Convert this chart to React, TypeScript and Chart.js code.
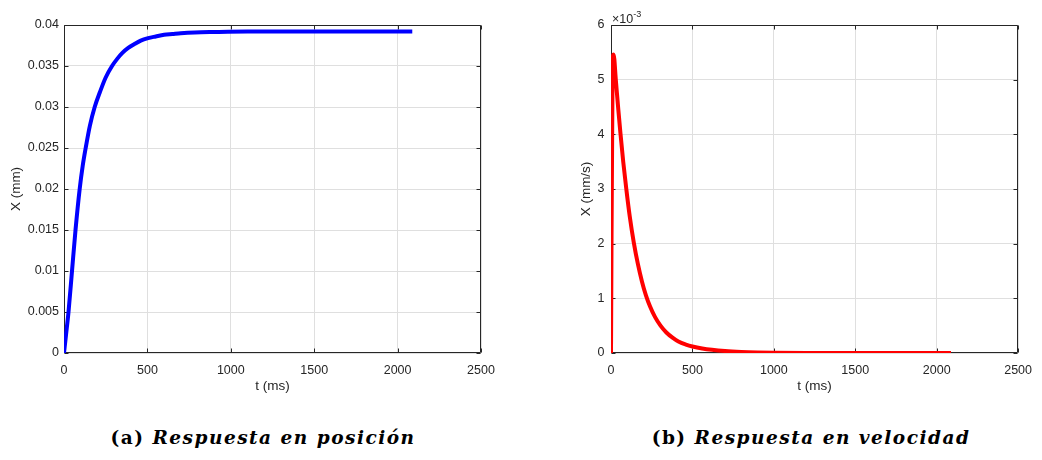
import React, { useEffect, useRef } from "react";
import { Chart, registerables } from "chart.js";

Chart.register(...registerables);

// ---- data ----
const positionTimeMs = [0, 12, 27, 48, 69, 94, 112, 130, 155, 184, 215, 250, 288, 320, 350, 385, 420, 460, 504, 550, 600, 650, 700, 784, 900, 1100, 1400, 1700, 2088];
const positionMm = [0, 0.0022, 0.005, 0.01, 0.015, 0.02, 0.0228, 0.025, 0.0277, 0.03, 0.0318, 0.0336, 0.035, 0.0359, 0.0366, 0.0372, 0.03765, 0.0381, 0.0384, 0.0386, 0.0388, 0.0389, 0.039, 0.0391, 0.03915, 0.0392, 0.0392, 0.0392, 0.0392];

const velocityTimeMs = [0, 10, 16, 30, 45, 58, 75, 94, 115, 140, 165, 190, 214, 240, 270, 304, 340, 380, 414, 460, 500, 560, 620, 700, 800, 900, 1000, 1200, 1500, 2088];
const velocityE3 = [0, 5.35, 5.46, 4.98, 4.45, 4.02, 3.5, 3.0, 2.5, 2.02, 1.63, 1.31, 1.06, 0.85, 0.66, 0.5, 0.375, 0.275, 0.21, 0.155, 0.12, 0.083, 0.058, 0.036, 0.02, 0.011, 0.006, 0.002, 0.0005, 0];

const timeTicks = [0, 500, 1000, 1500, 2000, 2500];
const positionTicks = [0, 0.005, 0.01, 0.015, 0.02, 0.025, 0.03, 0.035, 0.04];
const velocityTicks = [0, 1, 2, 3, 4, 5, 6];

const xTitle = "t (ms)";
const positionTitle = "X (mm)";
const velocityTitle = "X (mm/s)";
const captionA = ["(a)", "Respuesta en posición"];
const captionB = ["(b)", "Respuesta en velocidad"];

const AXIS = "#262626";
const GRID = "#dfdfdf";
const SANS = "'Liberation Sans', Arial, Helvetica, sans-serif";
const TICK_SIZE = 12.5;
const TITLE_SIZE = 13.5;

const matlabBox = {
  id: "matlabBox",
  beforeDatasetsDraw(chart: any) {
    const { ctx, chartArea: a, scales } = chart;
    const L = Math.round(a.left) + 0.5;
    const T = Math.round(a.top) + 0.5;
    const R = Math.round(a.right) - 0.5;
    const B = Math.round(a.bottom) - 0.5;
    ctx.save();
    ctx.strokeStyle = AXIS;
    ctx.lineWidth = 1;
    ctx.beginPath();
    ctx.rect(L, T, R - L, B - T);
    const tl = 4;
    scales.x.ticks.forEach((t: any) => {
      const px = Math.round(scales.x.getPixelForValue(t.value)) + 0.5;
      ctx.moveTo(px, B);
      ctx.lineTo(px, B - tl);
      ctx.moveTo(px, T);
      ctx.lineTo(px, T + tl);
    });
    scales.y.ticks.forEach((t: any) => {
      const py = Math.round(scales.y.getPixelForValue(t.value)) + 0.5;
      ctx.moveTo(L, py);
      ctx.lineTo(L + tl, py);
      ctx.moveTo(R, py);
      ctx.lineTo(R - tl, py);
    });
    ctx.stroke();
    ctx.restore();
  },
  afterDraw(chart: any) {
    const exp = chart.options.plugins.matlabBox?.exponent;
    if (!exp) return;
    const { ctx, chartArea: a } = chart;
    ctx.save();
    ctx.fillStyle = AXIS;
    ctx.textBaseline = "alphabetic";
    ctx.textAlign = "left";
    ctx.font = `${TICK_SIZE}px ${SANS}`;
    const base = "×10";
    ctx.fillText(base, a.left + 1, a.top - 2);
    const w = ctx.measureText(base).width;
    ctx.font = `9px ${SANS}`;
    ctx.fillText(exp, a.left + 1 + w, a.top - 8);
    ctx.restore();
  },
};

type PanelProps = {
  left: number;
  width: number;
  height: number;
  xs: number[];
  ys: number[];
  color: string;
  yTicks: number[];
  yMax: number;
  yTitle: string;
  yAxisWidth: number;
  yTitlePad: number;
  yTickPad: number;
  padRight: number;
  fmt: (v: number) => string;
  exponent?: string;
};

function Panel(p: PanelProps) {
  const ref = useRef<HTMLCanvasElement>(null);
  useEffect(() => {
    const canvas = ref.current!;
    const chart = new Chart(canvas, {
      type: "line",
      data: {
        datasets: [
          {
            data: p.xs.map((x, i) => ({ x, y: p.ys[i] })),
            borderColor: p.color,
            backgroundColor: p.color,
            borderWidth: 4,
            pointRadius: 0,
            cubicInterpolationMode: "monotone",
            fill: false,
          },
        ],
      },
      options: {
        animation: false,
        responsive: false,
        devicePixelRatio: 1,
        layout: { padding: { top: 25, right: p.padRight, left: 0, bottom: 0 } },
        plugins: {
          legend: { display: false },
          tooltip: { enabled: false },
          // @ts-ignore
          matlabBox: { exponent: p.exponent },
        },
        scales: {
          x: {
            type: "linear",
            min: 0,
            max: 2500,
            afterBuildTicks: (s: any) => {
              s.ticks = timeTicks.map((v) => ({ value: v }));
            },
            afterFit: (s: any) => {
              s.height = p.height - 353;
            },
            grid: { color: GRID, drawTicks: false, lineWidth: 1 },
            border: { display: false },
            ticks: {
              color: AXIS,
              font: { family: SANS, size: TICK_SIZE },
              padding: 10,
              maxRotation: 0,
              callback: (v: any) => String(v),
            },
            title: {
              display: true,
              text: xTitle,
              color: AXIS,
              font: { family: SANS, size: TITLE_SIZE },
              padding: { top: 0, bottom: 16 },
            },
          },
          y: {
            type: "linear",
            min: 0,
            max: p.yMax,
            afterBuildTicks: (s: any) => {
              s.ticks = p.yTicks.map((v) => ({ value: v }));
            },
            afterFit: (s: any) => {
              s.width = p.yAxisWidth;
            },
            grid: { color: GRID, drawTicks: false, lineWidth: 1 },
            border: { display: false },
            ticks: {
              color: AXIS,
              font: { family: SANS, size: TICK_SIZE },
              padding: p.yTickPad,
              callback: (v: any) => p.fmt(Number(v)),
            },
            title: {
              display: true,
              text: p.yTitle,
              color: AXIS,
              font: { family: SANS, size: TITLE_SIZE },
              padding: { top: p.yTitlePad, bottom: 0 },
            },
          },
        },
      },
      plugins: [matlabBox],
    } as any);
    return () => chart.destroy();
  }, []);
  return (
    <canvas
      ref={ref}
      width={p.width}
      height={p.height}
      style={{ position: "absolute", left: p.left, top: 0, width: p.width, height: p.height }}
    />
  );
}

function Caption({ parts, cx }: { parts: string[]; cx: number }) {
  return (
    <div
      style={{
        position: "absolute",
        left: cx - 250,
        width: 500,
        top: 427,
        textAlign: "center",
        fontFamily: "'DejaVu Serif', 'Liberation Serif', serif",
        fontWeight: "bold",
        fontSize: 18.5,
        letterSpacing: "1.5px",
        color: "#000",
        whiteSpace: "nowrap",
      }}
    >
      <span>{parts[0]} </span>
      <span style={{ fontStyle: "italic" }}>{parts[1]}</span>
    </div>
  );
}

export default function App() {
  return (
    <div
      style={{
        position: "fixed",
        left: 0,
        top: 0,
        width: 1042,
        height: 460,
        background: "#fff",
        overflow: "hidden",
      }}
    >
      <Panel
        left={0}
        width={521}
        height={410}
        xs={positionTimeMs}
        ys={positionMm}
        color="#0000ff"
        yTicks={positionTicks}
        yMax={0.04}
        yTitle={positionTitle}
        yAxisWidth={64}
        yTitlePad={8}
        yTickPad={5}
        padRight={40}
        fmt={(v) => String(Number(v.toFixed(3)))}
      />
      <Panel
        left={521}
        width={521}
        height={410}
        xs={velocityTimeMs}
        ys={velocityE3}
        color="#ff0000"
        yTicks={velocityTicks}
        yMax={6}
        yTitle={velocityTitle}
        yAxisWidth={90}
        yTitlePad={57}
        yTickPad={6.5}
        padRight={14.5}
        fmt={(v) => String(v)}
        exponent="-3"
      />
      <Caption parts={captionA} cx={263} />
      <Caption parts={captionB} cx={811} />
    </div>
  );
}
